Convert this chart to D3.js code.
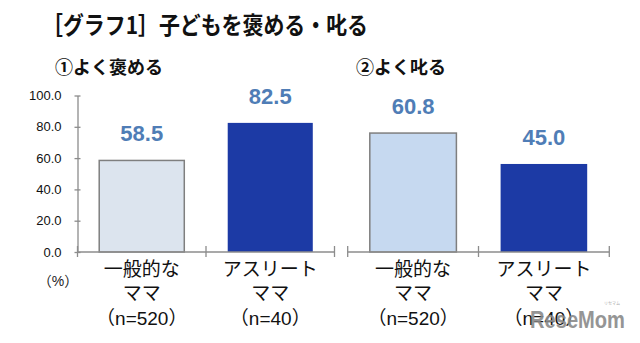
<!DOCTYPE html>
<html><head><meta charset="utf-8">
<script src="https://cdn.jsdelivr.net/npm/d3@7"></script>
<style>
html,body{margin:0;padding:0;background:#fff;}
svg{display:block;}
</style></head>
<body>
<svg id="c" width="640" height="343"></svg>
<script>
const title = "［グラフ1］子どもを褒める・叱る";
const panelTitles = ["①よく褒める", "②よく叱る"];
const categories = ["一般的なママ", "アスリートママ"];
const categoryLines = [["一般的な", "ママ", "（n=520）"], ["アスリート", "ママ", "（n=40）"]];
const praiseValues = [58.5, 82.5];
const scoldValues = [60.8, 45.0];
const yTicks = [0, 20, 40, 60, 80, 100];
const unitLabel = "（%）";

const svg = d3.select("#c");
const JP = "'Noto Sans CJK JP', 'Noto Sans', sans-serif";
const JPL = "'Liberation Sans', 'Noto Sans CJK JP', sans-serif";
const NUM = "'Liberation Sans', Arial, sans-serif";
const axisColor = "#8c8c8c";
const labelColor = "#4f7db6";
const darkBlue = "#1c3aa5";
const lightFill = ["#dce4ee", "#c6d9f0"];

const baseY = 252, topY = 95.5;
const yLeft = d3.scaleLinear().domain([0, 100]).range([baseY, topY]);
const yRight = d3.scaleLinear().domain([0, 80]).range([baseY, topY]);

const panels = [
  {values: praiseValues, range: [77.5, 334.5], y: yLeft, title: panelTitles[0], tx: 55, light: lightFill[0]},
  {values: scoldValues, range: [347.7, 609.3], y: yRight, title: panelTitles[1], tx: 356, light: lightFill[1]}
];

// Title
svg.append("text").attr("x", 42).attr("y", 23)
  .attr("dominant-baseline", "central")
  .attr("textLength", 326).attr("lengthAdjust", "spacingAndGlyphs")
  .style("font-family", JP).style("font-weight", 700).style("font-size", "24px")
  .attr("fill", "#111").text(title);

// Y axis (left panel)
const ax = svg.append("g").attr("transform", `translate(${panels[0].range[0]},0)`)
  .call(d3.axisLeft(yLeft).tickValues(yTicks).tickFormat(d3.format(".1f")).tickSize(6).tickSizeOuter(0).tickPadding(10));
ax.select(".domain").attr("stroke", axisColor).attr("stroke-width", 1.3);
ax.selectAll(".tick line").attr("x1", 3).attr("x2", -3).attr("stroke", axisColor).attr("stroke-width", 1.3);
ax.selectAll(".tick text").style("font-family", NUM).style("font-size", "13px").attr("fill", "#111");

svg.append("text").attr("x", 58).attr("y", 281).attr("text-anchor", "middle")
  .attr("dominant-baseline", "central")
  .style("font-family", JPL).style("font-size", "14px").attr("fill", "#222").text(unitLabel);

panels.forEach((p, pi) => {
  const x = d3.scaleBand().domain(categories).range(p.range).paddingInner(0.338).paddingOuter(0.169);
  const g = svg.append("g");
  // panel title
  g.append("text").attr("x", p.tx).attr("y", 66).attr("dominant-baseline", "central")
    .style("font-family", JP).style("font-weight", 700).style("font-size", "18px")
    .attr("fill", "#111").text(p.title);
  // bars
  g.selectAll("rect").data(p.values).join("rect")
    .attr("x", (d, i) => x(categories[i]))
    .attr("width", x.bandwidth())
    .attr("y", d => p.y(d))
    .attr("height", d => baseY - p.y(d))
    .attr("fill", (d, i) => i === 0 ? p.light : darkBlue)
    .attr("stroke", (d, i) => i === 0 ? "#7f7f7f" : "none")
    .attr("stroke-width", 1.5);
  // value labels
  g.selectAll("text.val").data(p.values).join("text").attr("class", "val")
    .attr("x", (d, i) => x(categories[i]) + x.bandwidth() / 2)
    .attr("y", d => p.y(d) - 19)
    .attr("text-anchor", "middle")
    .style("font-family", NUM).style("font-weight", 700).style("font-size", "22px")
    .attr("fill", labelColor).text(d => d3.format(".1f")(d));
  // x axis line
  g.append("line").attr("x1", p.range[0]).attr("x2", p.range[1]).attr("y1", baseY).attr("y2", baseY)
    .attr("stroke", axisColor).attr("stroke-width", 1.3);
  const bounds = [p.range[0]].concat(categories.map(c => x(c) + x.bandwidth() + x.step() * x.paddingInner() / 2));
  bounds[bounds.length - 1] = p.range[1];
  g.selectAll("line.tk").data(bounds).join("line").attr("class", "tk")
    .attr("x1", d => d).attr("x2", d => d).attr("y1", baseY - 6).attr("y2", baseY + 5)
    .attr("stroke", axisColor).attr("stroke-width", 1.3);
  // category labels
  categories.forEach((c, i) => {
    categoryLines[i].forEach((line, li) => {
      g.append("text").attr("x", x(c) + x.bandwidth() / 2).attr("y", [276, 300, 325][li])
        .attr("text-anchor", "middle")
        .style("font-family", JPL).style("font-size", "19px").attr("fill", "#111").text(line);
    });
  });
});

// watermark (overlaps the last label, as in the reference)
svg.append("text").attr("x", 530).attr("y", 328).attr("textLength", 95).attr("lengthAdjust", "spacingAndGlyphs")
  .style("font-family", NUM).style("font-weight", 700).style("font-size", "23px")
  .attr("fill", "#8a8a8a").attr("opacity", 0.9).text("ReseMom");
svg.append("text").attr("x", 612).attr("y", 305).attr("text-anchor", "middle")
  .style("font-family", JP).style("font-size", "4px").attr("fill", "#aaa").text("リセマム");
</script>
</body></html>
